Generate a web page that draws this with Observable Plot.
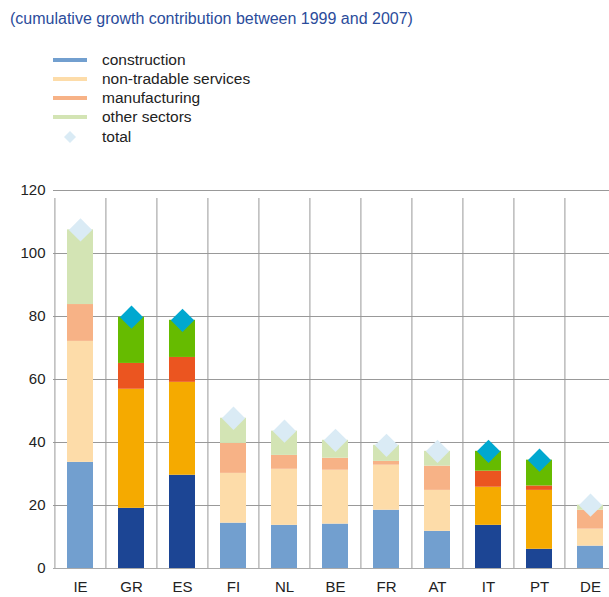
<!DOCTYPE html>
<html>
<head>
<meta charset="utf-8">
<script src="https://cdn.jsdelivr.net/npm/d3@7"></script>
<script src="https://cdn.jsdelivr.net/npm/@observablehq/plot@0.6"></script>
<style>
  html, body { margin: 0; padding: 0; background: #fff; overflow: hidden; }
  body { width: 609px; height: 597px; position: relative; font-family: "Liberation Sans", Arial, sans-serif; }
  #title { position: absolute; left: 10px; top: 10px; font-size: 16px; color: #2B4C9B; white-space: nowrap; }
  .leg { position: absolute; left: 0; font-size: 15.5px; line-height: 18px; color: #222; white-space: nowrap; }
  .leg .sw { position: absolute; left: 53px; width: 34px; height: 4px; }
  .leg .tx { position: absolute; left: 102px; top: 0; }
  #chart { position: absolute; left: 0; top: 160px; }
</style>
</head>
<body>
<div id="title">(cumulative growth contribution between 1999 and 2007)</div>
<div id="legend"></div>
<div id="chart"></div>
<script>
const countries = ["IE","GR","ES","FI","NL","BE","FR","AT","IT","PT","DE"];
const sectors = ["construction","non-tradable services","manufacturing","other sectors"];
const construction  = [33.7, 19.1, 29.6, 14.4, 13.7, 14.1, 18.5, 11.8, 13.7,  6.1, 7.1];
const nonTradable   = [38.4, 37.8, 29.5, 15.8, 17.8, 17.1, 14.3, 13.0, 12.1, 18.7, 5.4];
const manufacturing = [11.7,  8.2,  7.9,  9.5,  4.4,  3.8,  1.2,  7.7,  5.1,  1.4, 6.0];
const otherSectors  = [23.7, 14.7, 11.8,  8.0,  7.7,  5.7,  5.1,  4.7,  6.3,  8.2, 1.6];
const total         = [107.5, 79.8, 78.8, 47.7, 43.6, 40.7, 39.1, 37.2, 37.2, 34.4, 20.1];
const highlighted   = ["GR","ES","IT","PT"];
const yTicks = [0, 20, 40, 60, 80, 100, 120];

const lightColors = ["#729FCF", "#FDDCA9", "#F7B286", "#D3E4B4"];
const darkColors  = ["#1C4594", "#F5AA00", "#EB5520", "#66BB00"];
const lightTotal = "#DAEBF5";
const darkTotal = "#00A8D0";

const seriesValues = [construction, nonTradable, manufacturing, otherSectors];
const rows = [];
countries.forEach((c, i) => {
  sectors.forEach((s, j) => {
    rows.push({country: c, sector: s, value: seriesValues[j][i],
      color: highlighted.includes(c) ? darkColors[j] : lightColors[j]});
  });
});
const totals = countries.map((c, i) => ({country: c, value: total[i],
  color: highlighted.includes(c) ? darkTotal : lightTotal}));

// legend
const legend = document.getElementById("legend");
const legendY = [60, 79, 98, 117];
sectors.forEach((s, j) => {
  const d = document.createElement("div");
  d.className = "leg";
  d.style.top = (legendY[j] - 9) + "px";
  d.innerHTML = `<div class="sw" style="top:7px;background:${lightColors[j]}"></div><div class="tx">${s}</div>`;
  legend.appendChild(d);
});
{
  const d = document.createElement("div");
  d.className = "leg";
  d.style.top = (137 - 9) + "px";
  d.innerHTML = `<svg style="position:absolute;left:63px;top:2px" width="14" height="14"><path d="M7,1 L13,7 L7,13 L1,7 Z" fill="${lightTotal}"/></svg><div class="tx">total</div>`;
  legend.appendChild(d);
}

const width = 609, marginLeft = 53, marginRight = -7;
const step = (width - marginLeft - marginRight) / countries.length;

const chart = Plot.plot({
  width, height: 437,
  marginLeft, marginRight, marginTop: 30, marginBottom: 29,
  style: {fontFamily: "Liberation Sans, Arial, sans-serif", fontSize: "15px", color: "#222", overflow: "visible"},
  x: {domain: countries, paddingInner: 0.5, paddingOuter: 0.25, label: null},
  y: {domain: [0, 120], ticks: yTicks, label: null},
  color: {type: "identity"},
  marks: [
    Plot.gridY(yTicks, {stroke: "#999", strokeOpacity: 1}),
    Plot.ruleX(countries, {x: d => d, dx: -step / 2, y1: 0, y2: 120, insetBottom: -8, stroke: "#999", strokeOpacity: 1}),
    Plot.ruleX([countries[countries.length - 1]], {x: d => d, dx: step / 2, y1: 0, y2: 120, insetBottom: -8, stroke: "#999", strokeOpacity: 1}),
    Plot.barY(rows, {x: "country", y: "value", fill: "color"}),
    Plot.ruleY([0], {stroke: "#aaa"}),
    Plot.dot(totals, {x: "country", y: "value", fill: "color", symbol: "diamond2", r: 10.5}),
    Plot.axisY(yTicks, {tickSize: 0, tickPadding: 8, label: null, fontSize: 15, fill: "#222"}),
    Plot.axisX({tickSize: 0, tickPadding: 13, label: null, fontSize: 15, fill: "#222"})
  ]
});
document.getElementById("chart").appendChild(chart);
</script>
</body>
</html>
